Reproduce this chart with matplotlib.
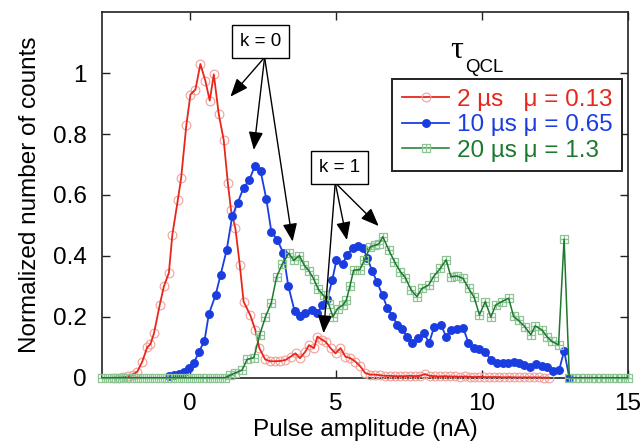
import matplotlib
matplotlib.use("Agg")
import matplotlib.pyplot as plt
from matplotlib.lines import Line2D
from matplotlib.path import Path

plt.rcParams['font.family'] = ['Liberation Sans', 'DejaVu Sans']

# Pulse-height histograms (normalized counts vs pulse amplitude in nA)
red_x = [-2.60, -2.44, -2.28, -2.12, -1.96, -1.80, -1.63, -1.46, -1.35, -1.23,
         -1.03, -0.89, -0.72, -0.60, -0.41, -0.30, -0.12, 0.02, 0.19, 0.36,
         0.53, 0.68, 0.82, 0.99, 1.16, 1.30, 1.41, 1.56, 1.71, 1.84,
         2.07, 2.24, 2.38, 2.58, 2.75, 2.92, 3.10, 3.27, 3.45, 3.62,
         3.77, 3.96, 4.08, 4.25, 4.37, 4.54, 4.65, 4.82, 4.99, 5.16,
         5.33, 5.50, 5.67, 5.84, 6.01, 6.18, 6.35, 6.52, 6.69, 6.86,
         7.03, 7.20, 7.37, 7.54, 7.71, 7.88, 8.05, 8.22, 8.39, 8.56,
         8.73, 8.90, 9.07, 9.24, 9.41, 9.58, 9.75, 9.92, 10.09, 10.26,
         10.43, 10.60, 10.77, 10.94, 11.11, 11.28, 11.45, 11.62, 11.79, 11.96,
         12.13, 12.30]
red_y = [0.0, 0.0, 0.002, 0.004, 0.010, 0.020, 0.053, 0.100, 0.110, 0.146,
         0.240, 0.300, 0.344, 0.470, 0.585, 0.655, 0.830, 0.930, 0.946, 1.030,
         0.975, 0.910, 0.996, 0.865, 0.780, 0.640, 0.550, 0.490, 0.370, 0.250,
         0.205, 0.157, 0.097, 0.060, 0.054, 0.054, 0.055, 0.058, 0.069, 0.080,
         0.064, 0.086, 0.107, 0.097, 0.135, 0.124, 0.118, 0.097, 0.080, 0.097,
         0.069, 0.064, 0.053, 0.037, 0.015, 0.010, 0.010, 0.008, 0.006, 0.006,
         0.005, 0.005, 0.005, 0.006, 0.005, 0.006, 0.012, 0.006, 0.005, 0.004,
         0.005, 0.004, 0.004, 0.003, 0.004, 0.003, 0.002, 0.003, 0.002, 0.002,
         0.002, 0.002, 0.001, 0.002, 0.001, 0.001, 0.001, 0.001, 0.001, 0.001,
         0.0, 0.0]

blue_x = [-0.73, -0.55, -0.37, -0.20, -0.03, 0.14, 0.31, 0.50, 0.65, 0.88,
          1.05, 1.26, 1.45, 1.64, 1.84, 2.03, 2.22, 2.42, 2.62, 2.79,
          3.00, 3.20, 3.37, 3.59, 3.77, 3.96, 4.17, 4.37, 4.54, 4.71,
          4.88, 5.02, 5.24, 5.39, 5.58, 5.77, 5.93, 6.08, 6.25, 6.42,
          6.60, 6.77, 6.94, 7.11, 7.27, 7.44, 7.61, 7.80, 8.01, 8.20,
          8.37, 8.60, 8.78, 8.94, 9.15, 9.37, 9.54, 9.74, 9.92, 10.12,
          10.31, 10.52, 10.71, 10.89, 11.09, 11.26, 11.45, 11.66, 11.85, 12.06,
          12.23, 12.43, 12.65, 12.82, 13.00]
blue_y = [0.004, 0.008, 0.012, 0.020, 0.031, 0.049, 0.085, 0.121, 0.209, 0.271,
          0.337, 0.419, 0.530, 0.575, 0.624, 0.648, 0.694, 0.680, 0.586, 0.480,
          0.452, 0.409, 0.302, 0.218, 0.203, 0.212, 0.221, 0.212, 0.240, 0.258,
          0.322, 0.385, 0.374, 0.404, 0.426, 0.432, 0.426, 0.393, 0.349, 0.313,
          0.270, 0.228, 0.203, 0.173, 0.160, 0.135, 0.113, 0.130, 0.146, 0.115,
          0.168, 0.173, 0.135, 0.157, 0.159, 0.162, 0.115, 0.097, 0.093, 0.086,
          0.058, 0.049, 0.047, 0.047, 0.053, 0.049, 0.042, 0.036, 0.044, 0.040,
          0.034, 0.023, 0.025, 0.088, 0.0]

green_x = [-3.0, -2.8, -2.6, -2.4, -2.2, -2.0, -1.8, -1.6, -1.4, -1.2,
           -1.0, -0.8, -0.6, -0.4, -0.2, 0.0, 0.2, 0.4, 0.6, 0.8,
           1.0, 1.2, 1.38, 1.56, 1.79, 1.96, 2.19, 2.39, 2.59, 2.79,
           2.97, 3.16, 3.39, 3.56, 3.75, 3.92, 4.07, 4.24, 4.40, 4.58,
           4.75, 4.90, 5.06, 5.24, 5.36, 5.48, 5.61, 5.82, 5.98, 6.18,
           6.35, 6.48, 6.61, 6.81, 7.01, 7.21, 7.38, 7.58, 7.78, 7.95,
           8.18, 8.35, 8.58, 8.78, 8.94, 9.15, 9.36, 9.55, 9.74, 9.92,
           10.12, 10.31, 10.48, 10.69, 10.92, 11.09, 11.26, 11.47, 11.68, 11.83,
           12.06, 12.23, 12.40, 12.63, 12.82, 13.00, 13.18, 13.36, 13.55, 13.73,
           13.91, 14.09, 14.27, 14.45, 14.64, 14.82, 15.00]
green_y = [0.0, 0.0, 0.0, 0.0, 0.0, 0.0, 0.0, 0.0, 0.0, 0.0,
           0.0, 0.0, 0.0, 0.0, 0.0, 0.0, 0.0, 0.0, 0.0, 0.0,
           0.0, 0.0, 0.008, 0.016, 0.025, 0.060, 0.066, 0.140, 0.200, 0.246,
           0.331, 0.372, 0.409, 0.385, 0.401, 0.369, 0.352, 0.325, 0.290, 0.270,
           0.243, 0.200, 0.227, 0.238, 0.254, 0.300, 0.353, 0.355, 0.386, 0.430,
           0.435, 0.440, 0.463, 0.420, 0.381, 0.348, 0.329, 0.288, 0.266, 0.293,
           0.304, 0.332, 0.359, 0.387, 0.332, 0.334, 0.326, 0.293, 0.264, 0.206,
           0.250, 0.199, 0.239, 0.250, 0.261, 0.201, 0.188, 0.168, 0.141, 0.170,
           0.157, 0.135, 0.119, 0.108, 0.455, 0.0, 0.0, 0.0, 0.0, 0.0,
           0.0, 0.0, 0.0, 0.0, 0.0, 0.0, 0.0]

labels = ["2 \u00b5s   \u03bc = 0.13", "10 \u00b5s \u03bc = 0.65", "20 \u00b5s \u03bc = 1.3"]
x_ticks = [0, 5, 10, 15]
y_ticks = [0, 0.2, 0.4, 0.6, 0.8, 1.0]
y_tick_labels = ["0", "0.2", "0.4", "0.6", "0.8", "1"]

RED, RED_MK = '#e8261c', '#f2a09a'
BLUE = '#1a3de0'
GREEN, GREEN_MK = '#1b7a2b', '#8fc496'
INK = '#222222'
FS = 17.5

# square with a cross inside
boxplus = Path([(-1, -1), (1, -1), (1, 1), (-1, 1), (-1, -1),
                (0, -1), (0, 1), (-1, 0), (1, 0)],
               [Path.MOVETO, Path.LINETO, Path.LINETO, Path.LINETO, Path.CLOSEPOLY,
                Path.MOVETO, Path.LINETO, Path.MOVETO, Path.LINETO])

fig = plt.figure(figsize=(6.41, 4.42), dpi=100)
ax = fig.add_axes([0.1596, 0.1455, 0.8197, 0.8267])

ax.plot(red_x, red_y, ls='none', marker='o', ms=6.3, mfc='none', mec=RED_MK,
        mew=0.8, zorder=3.0, clip_on=False)
ax.plot(red_x, red_y, '-', color=RED, lw=1.3, zorder=3.1, clip_on=False)
ax.plot(blue_x, blue_y, '-', color=BLUE, lw=1.3, marker='o', ms=5.4,
        mfc=BLUE, mec=BLUE, zorder=3.2, clip_on=False)
ax.plot(green_x, green_y, ls='none', marker=boxplus, ms=6.4, mfc='none',
        mec=GREEN_MK, mew=0.9, zorder=3.3, clip_on=False)
ax.plot(green_x, green_y, '-', color=GREEN, lw=1.1, zorder=3.4, clip_on=False)

ax.set_xlim(-3, 15)
ax.set_ylim(0, 1.2)
ax.set_xticks(x_ticks)
ax.set_xticklabels([str(t) for t in x_ticks])
ax.set_yticks(y_ticks)
ax.set_yticklabels(y_tick_labels)
ax.tick_params(direction='in', top=True, right=True, length=6, width=1.0,
               color=INK, labelsize=FS, labelcolor='black')
ax.tick_params(axis='x', pad=11)
ax.tick_params(axis='y', pad=11)
for s in ax.spines.values():
    s.set_color(INK)
    s.set_linewidth(1.2)

ax.set_xlabel("Pulse amplitude (nA)", fontsize=FS, labelpad=3)
ax.set_ylabel("Normalized number of counts", fontsize=FS, labelpad=9)

# annotation boxes with arrows
box = dict(boxstyle='square,pad=0.42', fc='white', ec='black', lw=1.0)
ax.text(2.42, 1.103, "k = 0", fontsize=13.5, ha='center', va='center', bbox=box, zorder=6)
ax.text(5.12, 0.69, "k = 1", fontsize=13.5, ha='center', va='center', bbox=box, zorder=6)

arrow = dict(arrowstyle='-|>,head_length=0.55,head_width=0.22', mutation_scale=20,
             color='black', lw=1.0, shrinkA=0, shrinkB=0)
for tx, ty in [(1.39, 0.923), (2.19, 0.748), (3.52, 0.447)]:
    ax.annotate("", xy=(tx, ty), xytext=(2.56, 1.052), arrowprops=arrow, zorder=5)
for tx, ty in [(4.58, 0.146), (5.38, 0.452), (6.47, 0.498)]:
    ax.annotate("", xy=(tx, ty), xytext=(4.98, 0.64), arrowprops=arrow, zorder=5)

# legend
handles = [
    Line2D([], [], color=RED, lw=1.3, marker='o', ms=6.3, mfc='none', mec=RED_MK, mew=0.8),
    Line2D([], [], color=BLUE, lw=1.3, marker='o', ms=5.4, mfc=BLUE, mec=BLUE),
    Line2D([], [], color=GREEN, lw=1.1, marker=boxplus, ms=6.4, mfc='none', mec=GREEN_MK, mew=0.9),
]
leg = ax.legend(handles, labels, loc='upper left', bbox_to_anchor=(0.552, 0.8175),
                fontsize=FS, frameon=True, fancybox=False, handlelength=1.95,
                handletextpad=0.3, borderpad=0.4, labelspacing=0.14,
                borderaxespad=0.0, markerscale=1.0)
leg.get_frame().set_edgecolor(INK)
leg.get_frame().set_linewidth(1.4)
leg.get_frame().set_alpha(1.0)
for txt, c in zip(leg.get_texts(), [RED, BLUE, GREEN]):
    txt.set_color(c)

# legend title: tau with QCL subscript
fig.text(457 / 641, 1 - 50 / 442, "\u03c4", fontsize=23, family=['Liberation Serif', 'DejaVu Serif'],
         ha='center', va='center')
fig.text(465 / 641, 1 - 72 / 442, "QCL", fontsize=13.5, ha='left', va='baseline')

fig.savefig("out.png", dpi=100)
